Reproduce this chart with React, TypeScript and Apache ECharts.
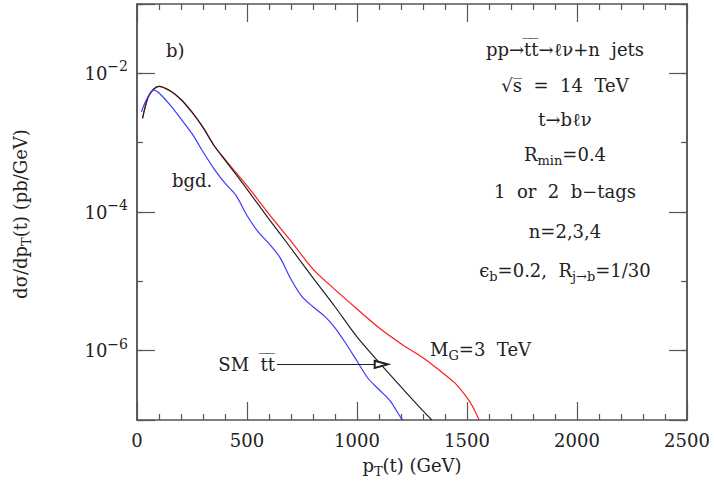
import React, { useEffect, useRef } from "react";
import * as echarts from "echarts";

// p_T (GeV) grid and d sigma / d p_T (pb/GeV)
const ptSM = [25, 50, 75, 100, 150, 200, 250, 300, 350, 400, 450, 500, 600, 700, 800, 900, 1000, 1100, 1200, 1300, 1340];
const smValues = [2.24e-3, 4.47e-3, 5.9e-3, 6.5e-3, 5.6e-3, 4.2e-3, 2.75e-3, 1.66e-3, 9.1e-4, 5.6e-4, 3.5e-4, 2.14e-4, 7.9e-5, 3.0e-5, 1.12e-5, 4.3e-6, 1.58e-6, 6.8e-7, 3.0e-7, 1.35e-7, 1.0e-7];

const ptMG = [25, 50, 75, 100, 150, 200, 250, 300, 350, 400, 450, 500, 550, 600, 700, 800, 900, 1000, 1100, 1200, 1300, 1400, 1450, 1500, 1530, 1555];
const mgValues = [2.24e-3, 4.47e-3, 5.9e-3, 6.5e-3, 5.6e-3, 4.2e-3, 2.75e-3, 1.66e-3, 9.1e-4, 5.75e-4, 3.7e-4, 2.4e-4, 1.5e-4, 9.3e-5, 3.8e-5, 1.5e-5, 7.6e-6, 4.0e-6, 2.14e-6, 1.26e-6, 7.9e-7, 4.5e-7, 3.3e-7, 2.1e-7, 1.48e-7, 1.0e-7];

const ptBgd = [20, 40, 60, 75, 100, 150, 200, 250, 300, 350, 400, 450, 500, 550, 600, 650, 700, 750, 800, 850, 900, 950, 1000, 1050, 1100, 1150, 1200, 1210];
const bgdValues = [2.8e-3, 4.0e-3, 5.2e-3, 5.75e-3, 5.2e-3, 3.5e-3, 2.2e-3, 1.35e-3, 7.4e-4, 4.2e-4, 2.6e-4, 1.74e-4, 8.9e-5, 5.2e-5, 3.5e-5, 2.2e-5, 1.07e-5, 6.0e-6, 4.3e-6, 3.2e-6, 2.14e-6, 1.26e-6, 7.1e-7, 4.0e-7, 2.75e-7, 1.9e-7, 1.07e-7, 1.0e-7];

// axes
const xMin = 0;
const xMax = 2500;
const xMajor = 500;
const yMin = 1e-7;
const yMax = 1e-1;

// SM arrow annotation (data coords)
const arrowStart = [636, 6.35e-7];
const arrowEnd = [1110, 6.35e-7];

const FONT = "DejaVu Serif";
const AXIS_COLOR = "#555";
const TEXT_COLOR = "#222";

const pairs = (xs: number[], ys: number[]) => xs.map((x, i) => [x, ys[i]]);

const richBase = {
  n: { fontFamily: FONT, fontSize: 18, color: TEXT_COLOR, lineHeight: 26 },
  sub: { fontFamily: FONT, fontSize: 13, color: TEXT_COLOR, lineHeight: 15, verticalAlign: "bottom" },
};

function txt(text: string, x: number, y: number, align: string = "center", rotation = 0) {
  return {
    type: "text",
    x,
    y,
    rotation,
    silent: true,
    style: { text, rich: richBase, align, verticalAlign: "middle", fill: TEXT_COLOR },
  };
}

export default function App() {
  const ref = useRef<HTMLDivElement>(null);
  useEffect(() => {
    if (!ref.current) return;
    const chart = echarts.init(ref.current, null, { renderer: "svg" });
    const mkLine = () => ({ color: AXIS_COLOR, width: 1.5 });
    const mkTick = () => ({ color: AXIS_COLOR, width: 1.2 });
    const longY = (position: string, labels: boolean) => ({
      type: "log",
      logBase: 100,
      splitNumber: 3,
      min: yMin,
      max: yMax,
      position,
      splitLine: { show: false },
      axisLine: { show: true, lineStyle: mkLine() },
      axisTick: { show: true, inside: true, length: 18, lineStyle: mkTick() },
      axisLabel: labels
        ? {
            show: true,
            margin: 9,
            formatter: (v: number) => {
              const e = Math.round(-Math.log10(v));
              if (e % 2 === 1) return "";
              return "{b|10}{s|\u2212" + e + "}";
            },
            rich: {
              b: { fontFamily: FONT, fontSize: 18, color: TEXT_COLOR, lineHeight: 28 },
              s: { fontFamily: FONT, fontSize: 14, color: TEXT_COLOR, lineHeight: 15, verticalAlign: "top" },
            },
          }
        : { show: false },
    });
    const shortY = (position: string) => ({
      type: "log",
      logBase: 10,
      splitNumber: 6,
      min: yMin,
      max: yMax,
      position,
      splitLine: { show: false },
      axisLine: { show: true, lineStyle: mkLine() },
      axisLabel: { show: false },
      axisTick: { show: true, inside: true, length: 6, lineStyle: mkTick() },
    });
    const xAx = (position: string, labels: boolean) => ({
      type: "value",
      min: xMin,
      max: xMax,
      interval: xMajor,
      position,
      splitLine: { show: false },
      axisLine: { show: true, lineStyle: mkLine() },
      axisTick: { show: true, inside: true, length: 18, lineStyle: mkTick() },
      minorTick: { show: true, splitNumber: 5, length: 6, lineStyle: mkTick() },
      axisLabel: labels
        ? { show: true, margin: 11, fontFamily: FONT, fontSize: 18, color: TEXT_COLOR, formatter: (v: number) => String(v) }
        : { show: false },
    });
    const option: any = {
      animation: false,
      backgroundColor: "#fff",
      grid: { left: 137, right: 27, top: 4, bottom: 62 },
      xAxis: [xAx("bottom", true), xAx("top", false)],
      yAxis: [longY("left", true), shortY("left"), longY("right", false), shortY("right")],
      series: [
        {
          name: "M_G=3 TeV",
          type: "line",
          xAxisIndex: 0,
          yAxisIndex: 0,
          data: pairs(ptMG, mgValues),
          showSymbol: false,
          smooth: 0.3,
          lineStyle: { color: "#ff1a1a", width: 1.2 },
          silent: true,
        },
        {
          name: "SM tt",
          type: "line",
          xAxisIndex: 0,
          yAxisIndex: 0,
          data: pairs(ptSM, smValues),
          showSymbol: false,
          smooth: 0.3,
          lineStyle: { color: "#222", width: 1.2 },
          silent: true,
          markLine: {
            silent: true,
            symbol: ["none", "emptyTriangle"],
            symbolSize: [7, 13],
            label: { show: false },
            lineStyle: { color: "#222", width: 1, type: "solid" },
            data: [[{ coord: arrowStart }, { coord: arrowEnd }]],
          },
        },
        {
          name: "bgd.",
          type: "line",
          xAxisIndex: 0,
          yAxisIndex: 0,
          data: pairs(ptBgd, bgdValues),
          showSymbol: false,
          smooth: 0.3,
          lineStyle: { color: "#3a3aff", width: 1.2 },
          silent: true,
        },
      ],
      graphic: [
        txt("{n|d\u03c3/dp}{sub|T}{n|(t) (pb/GeV)}", 20, 214, "center", Math.PI / 2),
        txt("{n|p}{sub|T}{n|(t) (GeV)}", 412, 465, "center"),
        txt("{n|b)}", 166, 50, "left"),
        txt("{n|bgd.}", 172, 180, "left"),
        txt("{n|SM  t\u0305t\u0305}", 275, 364, "right"),
        txt("{n|M}{sub|G}{n|=3  TeV}", 430, 349, "left"),
        txt("{n|pp\u2192t\u0305t\u0305\u2192\u2113\u03bd+n  jets}", 565, 49),
        txt("{n|\u221as\u0305  =  14  TeV}", 565, 85),
        txt("{n|t\u2192b\u2113\u03bd}", 565, 119),
        txt("{n|R}{sub|min}{n|=0.4}", 565, 154),
        txt("{n|1  or  2  b\u2212tags}", 565, 191),
        txt("{n|n=2,3,4}", 565, 231),
        txt("{n|\u03f5}{sub|b}{n|=0.2,  R}{sub|j\u2192b}{n|=1/30}", 565, 270),
      ],
    };
    chart.setOption(option);
    return () => chart.dispose();
  }, []);
  return <div ref={ref} style={{ width: 714, height: 482, position: "absolute", left: 0, top: 0 }} />;
}
